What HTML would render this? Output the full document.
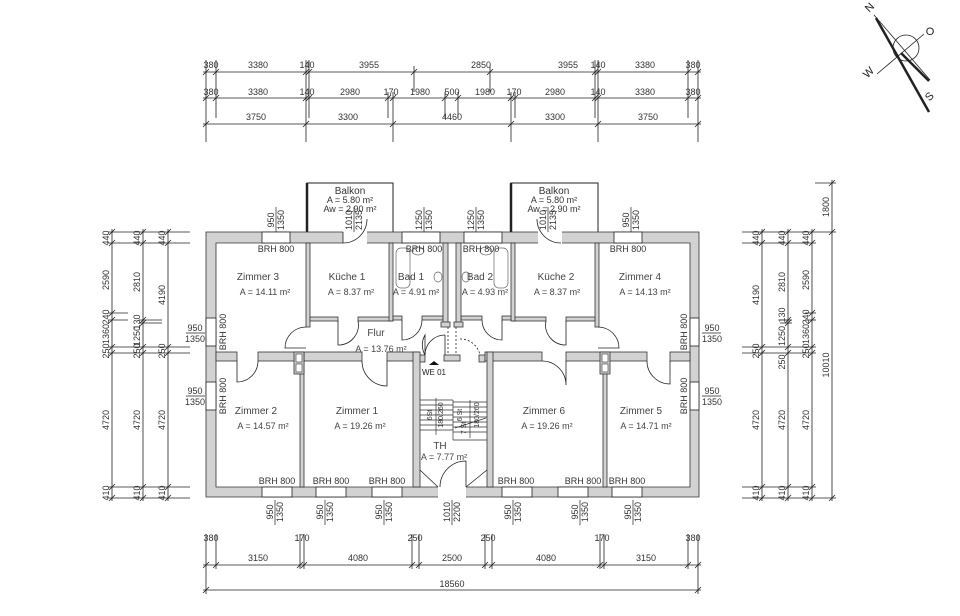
<!DOCTYPE html>
<html><head><meta charset="utf-8"><style>
html,body{margin:0;padding:0;background:#fff;}
svg{display:block;font-family:"Liberation Sans",sans-serif;}
.w{fill:#d2d2d2;stroke:#333;stroke-width:0.8}
.d{stroke:#222;stroke-width:0.8;fill:none}
.t{font-size:9px;fill:#333}
.r{font-size:10px;fill:#444}
</style></head><body>
<svg width="960" height="616" viewBox="0 0 960 616" xmlns="http://www.w3.org/2000/svg">
<defs>
<g id="tk"><line x1="-3" y1="3" x2="3" y2="-3" stroke="#222" stroke-width="0.8"/></g>
</defs>
<!-- TOP DIMENSIONS -->
<g class="d">
<line x1="203" y1="72" x2="701" y2="72"/>
<line x1="203" y1="98" x2="701" y2="98"/>
<line x1="203" y1="124" x2="701" y2="124"/>
<line x1="206" y1="60" x2="206" y2="142"/><line x1="216" y1="60" x2="216" y2="118"/>
<line x1="306" y1="60" x2="306" y2="142"/><line x1="309" y1="60" x2="309" y2="118"/>
<line x1="414" y1="66" x2="414" y2="92"/><line x1="490" y1="66" x2="490" y2="92"/>
<line x1="388" y1="92" x2="388" y2="118"/><line x1="393" y1="92" x2="393" y2="142"/>
<line x1="445" y1="92" x2="445" y2="118"/><line x1="458" y1="92" x2="458" y2="118"/>
<line x1="511" y1="92" x2="511" y2="142"/><line x1="515" y1="92" x2="515" y2="118"/>
<line x1="595" y1="60" x2="595" y2="118"/><line x1="598" y1="60" x2="598" y2="142"/>
<line x1="688" y1="60" x2="688" y2="118"/><line x1="698" y1="60" x2="698" y2="142"/>
</g>
<g>
<use href="#tk" x="206" y="72"/><use href="#tk" x="216" y="72"/><use href="#tk" x="306" y="72"/><use href="#tk" x="309" y="72"/><use href="#tk" x="414" y="72"/><use href="#tk" x="490" y="72"/><use href="#tk" x="595" y="72"/><use href="#tk" x="598" y="72"/><use href="#tk" x="688" y="72"/><use href="#tk" x="698" y="72"/>
<use href="#tk" x="206" y="98"/><use href="#tk" x="216" y="98"/><use href="#tk" x="306" y="98"/><use href="#tk" x="309" y="98"/><use href="#tk" x="388" y="98"/><use href="#tk" x="393" y="98"/><use href="#tk" x="445" y="98"/><use href="#tk" x="458" y="98"/><use href="#tk" x="511" y="98"/><use href="#tk" x="515" y="98"/><use href="#tk" x="595" y="98"/><use href="#tk" x="598" y="98"/><use href="#tk" x="688" y="98"/><use href="#tk" x="698" y="98"/>
<use href="#tk" x="206" y="124"/><use href="#tk" x="306" y="124"/><use href="#tk" x="393" y="124"/><use href="#tk" x="511" y="124"/><use href="#tk" x="598" y="124"/><use href="#tk" x="698" y="124"/>
</g>
<g class="t" text-anchor="middle">
<text x="211" y="68">380</text><text x="258" y="68">3380</text><text x="307" y="68">140</text><text x="369" y="68">3955</text><text x="481" y="68">2850</text><text x="568" y="68">3955</text><text x="598" y="68">140</text><text x="645" y="68">3380</text><text x="693" y="68">380</text>
<text x="211" y="95">380</text><text x="258" y="95">3380</text><text x="307" y="95">140</text><text x="350" y="95">2980</text><text x="391" y="95">170</text><text x="420" y="95">1980</text><text x="452" y="95">500</text><text x="485" y="95">1980</text><text x="514" y="95">170</text><text x="555" y="95">2980</text><text x="598" y="95">140</text><text x="645" y="95">3380</text><text x="693" y="95">380</text>
<text x="256" y="120">3750</text><text x="348" y="120">3300</text><text x="452" y="120">4460</text><text x="555" y="120">3300</text><text x="648" y="120">3750</text>
</g>
<!-- BOTTOM DIMENSIONS -->
<g class="d">
<line x1="203" y1="565" x2="701" y2="565"/><line x1="203" y1="590" x2="701" y2="590"/>
<line x1="206" y1="534" x2="206" y2="594"/><line x1="216" y1="534" x2="216" y2="569"/>
<line x1="300" y1="534" x2="300" y2="569"/><line x1="304" y1="534" x2="304" y2="569"/>
<line x1="412" y1="534" x2="412" y2="569"/><line x1="419" y1="534" x2="419" y2="569"/>
<line x1="485" y1="534" x2="485" y2="569"/><line x1="492" y1="534" x2="492" y2="569"/>
<line x1="600" y1="534" x2="600" y2="569"/><line x1="604" y1="534" x2="604" y2="569"/>
<line x1="688" y1="534" x2="688" y2="569"/><line x1="698" y1="534" x2="698" y2="594"/>
</g>
<g>
<use href="#tk" x="206" y="565"/><use href="#tk" x="216" y="565"/><use href="#tk" x="300" y="565"/><use href="#tk" x="304" y="565"/><use href="#tk" x="412" y="565"/><use href="#tk" x="419" y="565"/><use href="#tk" x="485" y="565"/><use href="#tk" x="492" y="565"/><use href="#tk" x="600" y="565"/><use href="#tk" x="604" y="565"/><use href="#tk" x="688" y="565"/><use href="#tk" x="698" y="565"/>
<use href="#tk" x="206" y="590"/><use href="#tk" x="698" y="590"/>
</g>
<g class="t" text-anchor="middle">
<text x="211" y="541">380</text><text x="302" y="541">170</text><text x="415" y="541">250</text><text x="488" y="541">250</text><text x="602" y="541">170</text><text x="693" y="541">380</text>
<text x="258" y="561">3150</text><text x="358" y="561">4080</text><text x="452" y="561">2500</text><text x="546" y="561">4080</text><text x="646" y="561">3150</text>
<text x="452" y="587">18560</text>
</g>
<!-- LEFT DIMENSIONS -->
<g class="d">
<line x1="112" y1="229" x2="112" y2="501"/><line x1="143" y1="229" x2="143" y2="501"/><line x1="168" y1="229" x2="168" y2="501"/>
<line x1="108" y1="232" x2="190" y2="232"/><line x1="108" y1="243" x2="190" y2="243"/>
<line x1="108" y1="313" x2="128" y2="313"/><line x1="108" y1="320" x2="128" y2="320"/>
<line x1="139" y1="320" x2="162" y2="320"/><line x1="139" y1="323" x2="162" y2="323"/>
<line x1="108" y1="347" x2="190" y2="347"/><line x1="108" y1="353" x2="190" y2="353"/>
<line x1="108" y1="487" x2="190" y2="487"/><line x1="108" y1="498" x2="190" y2="498"/>
</g>
<g>
<use href="#tk" x="112" y="232"/><use href="#tk" x="112" y="243"/><use href="#tk" x="112" y="313"/><use href="#tk" x="112" y="320"/><use href="#tk" x="112" y="347"/><use href="#tk" x="112" y="353"/><use href="#tk" x="112" y="487"/><use href="#tk" x="112" y="498"/>
<use href="#tk" x="143" y="232"/><use href="#tk" x="143" y="243"/><use href="#tk" x="143" y="320"/><use href="#tk" x="143" y="323"/><use href="#tk" x="143" y="347"/><use href="#tk" x="143" y="353"/><use href="#tk" x="143" y="487"/><use href="#tk" x="143" y="498"/>
<use href="#tk" x="168" y="232"/><use href="#tk" x="168" y="243"/><use href="#tk" x="168" y="347"/><use href="#tk" x="168" y="353"/><use href="#tk" x="168" y="487"/><use href="#tk" x="168" y="498"/>
</g>
<g class="t" text-anchor="middle">
<text transform="translate(109,238) rotate(-90)">440</text><text transform="translate(109,280) rotate(-90)">2590</text><text transform="translate(109,317) rotate(-90)">240</text><text transform="translate(109,334) rotate(-90)">1360</text><text transform="translate(109,351) rotate(-90)">250</text><text transform="translate(109,420) rotate(-90)">4720</text><text transform="translate(109,493) rotate(-90)">410</text>
<text transform="translate(140,238) rotate(-90)">440</text><text transform="translate(140,282) rotate(-90)">2810</text><text transform="translate(140,322) rotate(-90)">130</text><text transform="translate(140,336) rotate(-90)">1250</text><text transform="translate(140,351) rotate(-90)">250</text><text transform="translate(140,420) rotate(-90)">4720</text><text transform="translate(140,493) rotate(-90)">410</text>
<text transform="translate(165,238) rotate(-90)">440</text><text transform="translate(165,295) rotate(-90)">4190</text><text transform="translate(165,351) rotate(-90)">250</text><text transform="translate(165,420) rotate(-90)">4720</text><text transform="translate(165,493) rotate(-90)">410</text>
</g>
<!-- RIGHT DIMENSIONS -->
<g class="d">
<line x1="762" y1="229" x2="762" y2="501"/><line x1="788" y1="229" x2="788" y2="501"/><line x1="812" y1="229" x2="812" y2="501"/><line x1="832" y1="180" x2="832" y2="501"/>
<line x1="742" y1="232" x2="836" y2="232"/><line x1="742" y1="243" x2="816" y2="243"/>
<line x1="805" y1="313" x2="816" y2="313"/><line x1="805" y1="320" x2="816" y2="320"/>
<line x1="780" y1="320" x2="792" y2="320"/><line x1="780" y1="323" x2="792" y2="323"/>
<line x1="742" y1="347" x2="816" y2="347"/><line x1="742" y1="353" x2="816" y2="353"/>
<line x1="742" y1="487" x2="816" y2="487"/><line x1="742" y1="498" x2="836" y2="498"/>
<line x1="815" y1="183" x2="836" y2="183"/>
</g>
<g>
<use href="#tk" x="762" y="232"/><use href="#tk" x="762" y="243"/><use href="#tk" x="762" y="347"/><use href="#tk" x="762" y="353"/><use href="#tk" x="762" y="487"/><use href="#tk" x="762" y="498"/>
<use href="#tk" x="788" y="232"/><use href="#tk" x="788" y="243"/><use href="#tk" x="788" y="320"/><use href="#tk" x="788" y="323"/><use href="#tk" x="788" y="347"/><use href="#tk" x="788" y="353"/><use href="#tk" x="788" y="487"/><use href="#tk" x="788" y="498"/>
<use href="#tk" x="812" y="232"/><use href="#tk" x="812" y="243"/><use href="#tk" x="812" y="313"/><use href="#tk" x="812" y="320"/><use href="#tk" x="812" y="347"/><use href="#tk" x="812" y="353"/><use href="#tk" x="812" y="487"/><use href="#tk" x="812" y="498"/>
<use href="#tk" x="832" y="183"/><use href="#tk" x="832" y="232"/><use href="#tk" x="832" y="498"/>
</g>
<g class="t" text-anchor="middle">
<text transform="translate(759,238) rotate(-90)">440</text><text transform="translate(759,295) rotate(-90)">4190</text><text transform="translate(759,351) rotate(-90)">250</text><text transform="translate(759,420) rotate(-90)">4720</text><text transform="translate(759,493) rotate(-90)">410</text>
<text transform="translate(785,238) rotate(-90)">440</text><text transform="translate(785,282) rotate(-90)">2810</text><text transform="translate(785,315) rotate(-90)">130</text><text transform="translate(785,336) rotate(-90)">1250</text><text transform="translate(785,362) rotate(-90)">250</text><text transform="translate(785,420) rotate(-90)">4720</text><text transform="translate(785,493) rotate(-90)">410</text>
<text transform="translate(809,238) rotate(-90)">440</text><text transform="translate(809,280) rotate(-90)">2590</text><text transform="translate(809,317) rotate(-90)">240</text><text transform="translate(809,334) rotate(-90)">1360</text><text transform="translate(809,351) rotate(-90)">250</text><text transform="translate(809,420) rotate(-90)">4720</text><text transform="translate(809,493) rotate(-90)">410</text>
<text transform="translate(829,207) rotate(-90)">1800</text><text transform="translate(829,365) rotate(-90)">10010</text>
</g>
<!-- BALCONIES -->
<g fill="none" stroke="#222">
<path d="M307 232 V183 H393 V232" stroke-width="1"/><line x1="307" y1="183" x2="307" y2="232" stroke-width="2.5"/>
<path d="M511 232 V183 H598 V232" stroke-width="1"/><line x1="511" y1="183" x2="511" y2="232" stroke-width="2.5"/>
</g>
<g class="t" text-anchor="middle">
<text x="350" y="194" font-size="10">Balkon</text><text x="350" y="203">A = 5.80 m²</text><text x="350" y="212">Aw = 2.90 m²</text>
<text x="554" y="194" font-size="10">Balkon</text><text x="554" y="203">A = 5.80 m²</text><text x="554" y="212">Aw = 2.90 m²</text>
</g>
<!-- OUTER WALLS -->
<path class="w" fill-rule="evenodd" d="M206 232 H699 V497 H206 Z M216 243 V487 H690 V243 Z"/>
<!-- INTERIOR WALLS -->
<g class="w">
<rect x="306" y="243" width="4" height="84"/><rect x="595" y="243" width="4" height="84"/>
<rect x="310" y="317" width="28" height="4"/><rect x="358" y="317" width="35" height="4"/>
<rect x="512" y="317" width="34" height="4"/><rect x="566" y="317" width="29" height="4"/>
<rect x="389" y="243" width="4" height="78"/><rect x="511" y="243" width="4" height="78"/>
<rect x="393" y="316" width="9" height="4"/><rect x="422" y="316" width="21" height="4"/>
<rect x="461" y="316" width="21" height="4"/><rect x="502" y="316" width="9" height="4"/>
<rect x="443" y="243" width="5" height="82"/><rect x="456" y="243" width="5" height="82"/>
<rect x="441" y="322" width="9" height="5"/><rect x="454" y="322" width="9" height="5"/>
<rect x="216" y="352" width="21" height="9"/><rect x="258" y="352" width="46" height="9"/>
<rect x="304" y="352" width="58" height="9"/><rect x="387" y="352" width="32" height="9"/>
<rect x="419" y="355" width="6" height="7"/><rect x="444" y="355" width="16" height="6"/><rect x="479" y="355" width="6" height="7"/>
<rect x="485" y="352" width="57" height="9"/><rect x="566" y="352" width="38" height="9"/>
<rect x="604" y="352" width="43" height="9"/><rect x="670" y="352" width="20" height="9"/>
<rect x="300" y="352" width="4" height="135"/><rect x="603" y="352" width="4" height="135"/>
<rect x="413" y="352" width="7" height="135"/><rect x="487" y="352" width="6" height="135"/>
<rect x="294" y="352" width="10" height="22"/><rect x="600" y="352" width="10" height="22"/>
</g>
<g fill="#fff" stroke="#333" stroke-width="0.6">
<rect x="296" y="354" width="6" height="8"/><rect x="296" y="364" width="6" height="8"/>
<rect x="602" y="354" width="6" height="8"/><rect x="602" y="364" width="6" height="8"/>
</g>
<!-- Openings in outer wall (windows/doors) -->
<g fill="#fff" stroke="#222" stroke-width="0.8">
<rect x="262" y="232" width="28" height="11"/><rect x="614" y="232" width="28" height="11"/>
<rect x="402" y="232" width="38" height="11"/><rect x="464" y="232" width="38" height="11"/>
<rect x="262" y="487" width="30" height="10"/><rect x="316" y="487" width="30" height="10"/><rect x="372" y="487" width="30" height="10"/>
<rect x="502" y="487" width="30" height="10"/><rect x="558" y="487" width="30" height="10"/><rect x="612" y="487" width="30" height="10"/>
<rect x="206" y="318" width="10" height="28"/><rect x="206" y="382" width="10" height="28"/>
<rect x="690" y="318" width="9" height="28"/><rect x="690" y="382" width="9" height="28"/>
</g>
<g fill="#fff" stroke="none">
<rect x="343" y="231" width="24" height="13"/><rect x="538" y="231" width="24" height="13"/>
<rect x="438" y="486" width="28" height="12"/>
</g>
<g class="d">
<path d="M343 243 A24 24 0 0 0 367 219"/><line x1="343" y1="243" x2="343" y2="232"/>
<path d="M561 243 A24 24 0 0 1 537 219"/>
<path d="M338 321 V345 A20 20 0 0 0 358 321"/><path d="M566 321 V345 A20 20 0 0 1 546 321"/>
<path d="M402 320 V340 A20 20 0 0 0 422 320"/><path d="M502 320 V340 A20 20 0 0 1 482 320"/>
<path d="M306 327 A21 21 0 0 0 285 348 H306"/><path d="M598 327 A21 21 0 0 1 619 348 H598"/>
<path d="M237 361 V382 A21 21 0 0 0 258 361"/><path d="M362 361 A25 25 0 0 0 387 386 V361"/>
<path d="M542 361 A24 24 0 0 1 566 385 V361" transform="translate(0,0)"/><path d="M670 361 V384 A23 23 0 0 1 647 361"/>
<path d="M425 355 V335 A20 20 0 0 0 425 355"/><path d="M425 355 A20 20 0 0 1 445 335" /><line x1="445" y1="335" x2="445" y2="355"/>
<path d="M460 339 A20 20 0 0 1 480 355" stroke-dasharray="2,2"/>
<line x1="448" y1="327" x2="448" y2="355" stroke-dasharray="2,2"/><line x1="456" y1="327" x2="456" y2="355" stroke-dasharray="2,2"/>
<path d="M440 487 A26 26 0 0 1 466 461 V487"/>
<path d="M420 470 L438 487 M487 470 L466 487"/>
</g>
<!-- stairs -->
<g stroke="#333" stroke-width="0.7">
<line x1="420" y1="400" x2="453" y2="400"/><line x1="420" y1="405" x2="453" y2="405"/><line x1="420" y1="410" x2="453" y2="410"/><line x1="420" y1="415" x2="453" y2="415"/><line x1="420" y1="420" x2="453" y2="420"/><line x1="420" y1="425" x2="453" y2="425"/><line x1="420" y1="430" x2="453" y2="430"/>
<line x1="453" y1="400" x2="453" y2="440"/><line x1="453" y1="440" x2="487" y2="440"/>
<line x1="453" y1="402" x2="487" y2="402"/><line x1="453" y1="407" x2="487" y2="407"/><line x1="453" y1="412" x2="487" y2="412"/><line x1="453" y1="417" x2="487" y2="417"/><line x1="453" y1="422" x2="487" y2="422"/><line x1="453" y1="427" x2="487" y2="427"/><line x1="453" y1="432" x2="487" y2="432"/>
<line x1="436" y1="398" x2="436" y2="435"/><line x1="470" y1="400" x2="470" y2="438"/>
<line x1="455" y1="428" x2="486" y2="418"/>
</g>
<g font-size="7" fill="#333" text-anchor="middle">
<text transform="translate(432,415) rotate(-90)">6St</text><text transform="translate(443,415) rotate(-90)">180/260</text>
<text transform="translate(462,415) rotate(-90)">6 St</text><text transform="translate(466,428) rotate(-90)">7 St</text><text transform="translate(479,415) rotate(-90)">180/260</text>
</g>
<path d="M429 365 L434 361 L439 365 Z" fill="#111"/>
<!-- fixtures -->
<g fill="none" stroke="#666" stroke-width="0.7">
<rect x="396" y="248" width="14" height="40" rx="5"/><rect x="494" y="248" width="14" height="40" rx="5"/>
<ellipse cx="418" cy="251" rx="6" ry="4"/><ellipse cx="486" cy="251" rx="6" ry="4"/>
<ellipse cx="438" cy="277" rx="4" ry="5"/><ellipse cx="466" cy="277" rx="4" ry="5"/>
</g>
<!-- BRH / window labels -->
<g class="t" text-anchor="middle">
<text x="276" y="252">BRH 800</text><text x="424" y="252">BRH 800</text><text x="481" y="252">BRH 800</text><text x="628" y="252">BRH 800</text>
<text x="277" y="484">BRH 800</text><text x="331" y="484">BRH 800</text><text x="387" y="484">BRH 800</text>
<text x="516" y="484">BRH 800</text><text x="583" y="484">BRH 800</text><text x="627" y="484">BRH 800</text>
<text transform="translate(226,332) rotate(-90)">BRH 800</text><text transform="translate(226,396) rotate(-90)">BRH 800</text>
<text transform="translate(687,332) rotate(-90)">BRH 800</text><text transform="translate(687,396) rotate(-90)">BRH 800</text>
</g>
<g class="t" text-anchor="middle">
<text x="195" y="331">950</text><text x="195" y="342">1350</text><line x1="186" y1="333" x2="205" y2="333" stroke="#222" stroke-width="0.7"/>
<text x="195" y="394">950</text><text x="195" y="405">1350</text><line x1="186" y1="396" x2="205" y2="396" stroke="#222" stroke-width="0.7"/>
<text x="712" y="331">950</text><text x="712" y="342">1350</text><line x1="702" y1="333" x2="721" y2="333" stroke="#222" stroke-width="0.7"/>
<text x="712" y="394">950</text><text x="712" y="405">1350</text><line x1="702" y1="396" x2="721" y2="396" stroke="#222" stroke-width="0.7"/>
</g>
<g class="t" text-anchor="middle" font-size="8">
<g transform="translate(276,220)"><text transform="translate(-2,0) rotate(-90)">950</text><text transform="translate(8,0) rotate(-90)">1350</text><line x1="0" y1="-13" x2="0" y2="12" stroke="#222" stroke-width="0.7"/></g>
<g transform="translate(354,220)"><text transform="translate(-2,0) rotate(-90)">1010</text><text transform="translate(8,0) rotate(-90)">2135</text><line x1="0" y1="-13" x2="0" y2="12" stroke="#222" stroke-width="0.7"/></g>
<g transform="translate(424,220)"><text transform="translate(-2,0) rotate(-90)">1250</text><text transform="translate(8,0) rotate(-90)">1350</text><line x1="0" y1="-13" x2="0" y2="12" stroke="#222" stroke-width="0.7"/></g>
<g transform="translate(476,220)"><text transform="translate(-2,0) rotate(-90)">1250</text><text transform="translate(8,0) rotate(-90)">1350</text><line x1="0" y1="-13" x2="0" y2="12" stroke="#222" stroke-width="0.7"/></g>
<g transform="translate(548,220)"><text transform="translate(-2,0) rotate(-90)">1010</text><text transform="translate(8,0) rotate(-90)">2135</text><line x1="0" y1="-13" x2="0" y2="12" stroke="#222" stroke-width="0.7"/></g>
<g transform="translate(631,220)"><text transform="translate(-2,0) rotate(-90)">950</text><text transform="translate(8,0) rotate(-90)">1350</text><line x1="0" y1="-13" x2="0" y2="12" stroke="#222" stroke-width="0.7"/></g>
<g transform="translate(275,512)"><text transform="translate(-2,0) rotate(-90)">950</text><text transform="translate(8,0) rotate(-90)">1350</text><line x1="0" y1="-12" x2="0" y2="13" stroke="#222" stroke-width="0.7"/></g>
<g transform="translate(325,512)"><text transform="translate(-2,0) rotate(-90)">950</text><text transform="translate(8,0) rotate(-90)">1350</text><line x1="0" y1="-12" x2="0" y2="13" stroke="#222" stroke-width="0.7"/></g>
<g transform="translate(384,512)"><text transform="translate(-2,0) rotate(-90)">950</text><text transform="translate(8,0) rotate(-90)">1350</text><line x1="0" y1="-12" x2="0" y2="13" stroke="#222" stroke-width="0.7"/></g>
<g transform="translate(452,512)"><text transform="translate(-2,0) rotate(-90)">1010</text><text transform="translate(8,0) rotate(-90)">2200</text><line x1="0" y1="-12" x2="0" y2="13" stroke="#222" stroke-width="0.7"/></g>
<g transform="translate(513,512)"><text transform="translate(-2,0) rotate(-90)">950</text><text transform="translate(8,0) rotate(-90)">1350</text><line x1="0" y1="-12" x2="0" y2="13" stroke="#222" stroke-width="0.7"/></g>
<g transform="translate(580,512)"><text transform="translate(-2,0) rotate(-90)">950</text><text transform="translate(8,0) rotate(-90)">1350</text><line x1="0" y1="-12" x2="0" y2="13" stroke="#222" stroke-width="0.7"/></g>
<g transform="translate(633,512)"><text transform="translate(-2,0) rotate(-90)">950</text><text transform="translate(8,0) rotate(-90)">1350</text><line x1="0" y1="-12" x2="0" y2="13" stroke="#222" stroke-width="0.7"/></g>
</g>
<!-- ROOM LABELS -->
<g class="r" text-anchor="middle">
<text x="258" y="280">Zimmer 3</text><text x="265" y="295" font-size="9">A = 14.11 m²</text>
<text x="347" y="280">Küche 1</text><text x="351" y="295" font-size="9">A = 8.37 m²</text>
<text x="411" y="280">Bad 1</text><text x="416" y="295" font-size="9">A = 4.91 m²</text>
<text x="480" y="280">Bad 2</text><text x="485" y="295" font-size="9">A = 4.93 m²</text>
<text x="556" y="280">Küche 2</text><text x="557" y="295" font-size="9">A = 8.37 m²</text>
<text x="640" y="280">Zimmer 4</text><text x="645" y="295" font-size="9">A = 14.13 m²</text>
<text x="376" y="336">Flur</text><text x="381" y="352" font-size="9">A = 13.76 m²</text>
<text x="434" y="375" font-size="8" fill="#222">WE 01</text>
<text x="256" y="414">Zimmer 2</text><text x="263" y="429" font-size="9">A = 14.57 m²</text>
<text x="357" y="414">Zimmer 1</text><text x="360" y="429" font-size="9">A = 19.26 m²</text>
<text x="544" y="414">Zimmer 6</text><text x="547" y="429" font-size="9">A = 19.26 m²</text>
<text x="641" y="414">Zimmer 5</text><text x="646" y="429" font-size="9">A = 14.71 m²</text>
<text x="440" y="449">TH</text><text x="444" y="460" font-size="9">A = 7.77 m²</text>
</g>
<!-- COMPASS -->
<g fill="none" stroke="#222">
<circle cx="906" cy="48" r="13" stroke-width="0.8"/>
<line x1="874" y1="15" x2="930" y2="80" stroke-width="0.8"/>
<line x1="877" y1="74" x2="924" y2="34" stroke-width="0.8"/>
<line x1="876" y1="18" x2="929" y2="112" stroke-width="2.5"/>
<line x1="901" y1="53" x2="929" y2="81" stroke-width="2.5"/>
</g>
<g font-size="11" fill="#222" text-anchor="middle">
<text transform="translate(872,10) rotate(-45)">N</text>
<text x="930" y="35">O</text>
<text transform="translate(871,75) rotate(-45)">W</text>
<text transform="translate(932,99) rotate(-45)">S</text>
</g>
</svg>
</body></html>
